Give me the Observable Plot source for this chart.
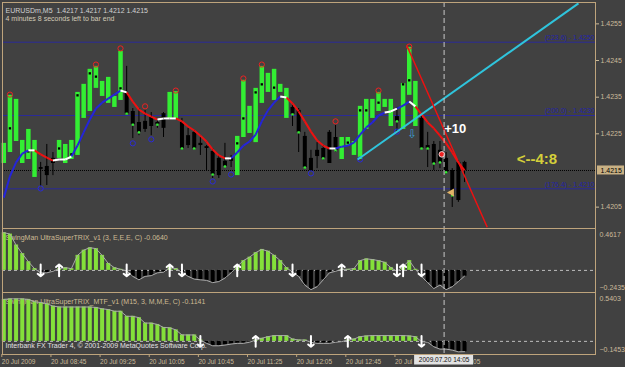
<!DOCTYPE html>
<html>
<head>
<meta charset="utf-8">
<script src="https://cdn.jsdelivr.net/npm/d3@7"></script>
<script src="https://cdn.jsdelivr.net/npm/@observablehq/plot@0.6"></script>
<style>
  html, body { margin: 0; padding: 0; background: #414141; }
  #chart { position: relative; width: 625px; height: 367px; overflow: hidden; background: #414141; }
  #chart svg { position: absolute; left: 0; overflow: visible; }
</style>
</head>
<body>
<div id="chart"></div>
<script>
// ---------------- data ----------------
const symbolTitle = "EURUSDm,M5  1.4217 1.4217 1.4212 1.4215";
const timerText = "4 minutes 8 seconds left to bar end";
const ind1Title = "SwingMan UltraSuperTRIX_v1 (3, E,E,E, C) -0.0640";
const ind2Title = "SwingMan UltraSuperTRIX_MTF_v1 (M15, 3, M,M,E, C) -0.1141";
const copyright = "Interbank FX Trader 4, \u00a9 2001-2009 MetaQuotes Software Corp.";

const open = [1.42169,1.42199,1.42229,1.42169,1.42180,1.42131,1.42158,1.42161,1.42183,1.42183,
  1.42169,1.42180,1.42191,1.42292,1.42311,1.42374,1.42352,1.42333,1.42322,1.42341,
  1.42360,1.42311,1.42281,1.42284,1.42295,1.42281,1.42305,1.42292,1.42292,1.42281,
  1.42245,1.42254,1.42224,1.42215,1.42202,1.42183,1.42175,1.42185,1.42136,1.42240,
  1.42251,1.42226,1.42333,1.42363,1.42341,1.42363,1.42292,1.42322,1.42314,1.42243,
  1.42183,1.42205,1.42210,1.42254,1.42240,1.42180,1.42218,1.42191,1.42180,1.42262,
  1.42292,1.42311,1.42322,1.42270,1.42297,1.42262,1.42355,1.42270,1.42292,1.42218,
  1.42221,1.42205,1.42183,1.42150,1.42172,1.42172];
const high = [1.42224,1.42355,1.42344,1.42232,1.42262,1.42232,1.42172,1.42221,1.42199,1.42232,
  1.42221,1.42232,1.42363,1.42385,1.42426,1.42434,1.42393,1.42404,1.42352,1.42475,
  1.42434,1.42319,1.42319,1.42314,1.42308,1.42292,1.42308,1.42363,1.42365,1.42292,
  1.42265,1.42259,1.42240,1.42218,1.42210,1.42191,1.42224,1.42191,1.42243,1.42396,
  1.42325,1.42374,1.42434,1.42415,1.42426,1.42385,1.42374,1.42327,1.42319,1.42254,
  1.42205,1.42226,1.42218,1.42259,1.42273,1.42240,1.42240,1.42229,1.42325,1.42344,
  1.42344,1.42363,1.42344,1.42344,1.42322,1.42387,1.42486,1.42393,1.42297,1.42254,
  1.42229,1.42229,1.42199,1.42155,1.42177,1.42175];
const low = [1.42169,1.42199,1.42229,1.42169,1.42180,1.42131,1.42106,1.42109,1.42136,1.42183,
  1.42169,1.42180,1.42191,1.42292,1.42311,1.42374,1.42352,1.42333,1.42322,1.42341,
  1.42300,1.42237,1.42245,1.42254,1.42245,1.42265,1.42240,1.42292,1.42292,1.42205,
  1.42210,1.42205,1.42191,1.42150,1.42128,1.42128,1.42158,1.42158,1.42136,1.42240,
  1.42251,1.42226,1.42333,1.42363,1.42341,1.42363,1.42292,1.42270,1.42199,1.42153,
  1.42147,1.42155,1.42177,1.42169,1.42199,1.42180,1.42218,1.42191,1.42180,1.42262,
  1.42292,1.42311,1.42322,1.42270,1.42254,1.42262,1.42355,1.42270,1.42207,1.42158,
  1.42150,1.42155,1.42139,1.42049,1.42063,1.42117];
const close = [1.42224,1.42355,1.42344,1.42232,1.42262,1.42232,1.42153,1.42136,1.42169,1.42232,
  1.42221,1.42232,1.42363,1.42385,1.42426,1.42434,1.42393,1.42404,1.42352,1.42475,
  1.42305,1.42275,1.42254,1.42262,1.42270,1.42275,1.42265,1.42363,1.42365,1.42210,
  1.42218,1.42210,1.42218,1.42210,1.42139,1.42136,1.42161,1.42175,1.42243,1.42396,
  1.42325,1.42374,1.42434,1.42415,1.42426,1.42385,1.42374,1.42303,1.42254,1.42158,
  1.42150,1.42188,1.42183,1.42169,1.42205,1.42240,1.42240,1.42229,1.42325,1.42344,
  1.42344,1.42363,1.42344,1.42344,1.42284,1.42387,1.42486,1.42393,1.42210,1.42210,
  1.42169,1.42172,1.42145,1.42082,1.42068,1.42150];

// moving average and its trend state per segment (u = rising, d = falling, f = flat)
const ma = [1.42076,1.42134,1.42172,1.42196,1.42205,1.42205,1.42194,1.42185,1.42177,1.42180,
  1.42180,1.42188,1.42218,1.42254,1.42289,1.42319,1.42335,1.42346,1.42357,1.42368,
  1.42363,1.42338,1.42316,1.42305,1.42297,1.42289,1.42292,1.42292,1.42292,1.42284,
  1.42270,1.42259,1.42245,1.42229,1.42207,1.42191,1.42183,1.42183,1.42199,1.42218,
  1.42229,1.42248,1.42284,1.42314,1.42335,1.42352,1.42349,1.42333,1.42311,1.42284,
  1.42256,1.42232,1.42218,1.42210,1.42210,1.42215,1.42218,1.42226,1.42248,1.42267,
  1.42281,1.42300,1.42308,1.42311,1.42319,1.42327,1.42338,1.42325,1.42303,1.42281,
  1.42265,1.42245,1.42224,1.42199,1.42172,1.42150];
const maTrend = ("uuuu" + "f" + "ddd" + "fff" + "uuuuuuuu" + "f" + "ddddd" + "fff" + "dddddddd" + "f" +
  "uuuuuuuu" + "f" + "ddddddd" + "f" + "uuuuuuuu" + "ff" + "uu" + "f" + "dddddddd").split("");

// black marker dots on bull bars
const markBars = [1,4,9,11,12,14,15,19,38,39,41,42,44,56,58,59,61,65,66];
const markPrices = [1.42265,1.42202,1.42210,1.42194,1.42355,1.42415,1.42406,1.42374,1.42224,1.42292,
  1.42363,1.42385,1.42376,1.42226,1.42314,1.42314,1.42335,1.42385,1.42396];
// green close dots on bear bars
const closeDotBars = [20,21,22,25,29,31,34,36,47,48,49,52,54,64,68,69,70,71,72,73];

// fractals
const fracUpBars = [1,15,19,23,28,39,42,54,61,66];
const fracUpPrices = [1.42357,1.42439,1.42483,1.42325,1.42368,1.42401,1.42439,1.42284,1.42368,1.42488];
const fracDnBars = [6,21,24,34,37,50,58,64];
const fracDnPrices = [1.42101,1.42224,1.42235,1.42120,1.42139,1.42142,1.42180,1.42256];

// trend lines [bar, price]
const cyanLine = [[57.6, 1.42180], [93.55, 1.42606]];
const redLine = [[65.6, 1.42491], [78.7, 1.41995]];

// fibonacci levels
const fibLevels = [1.4250, 1.4230, 1.4210];
const fibLabels = ["(223.6) - 1.4250", "(200.0) - 1.4230", "(176.4) - 1.4210"];
const bidPrice = 1.4215;
const priceTicks = [1.4205, 1.4225, 1.4235, 1.4245, 1.4255];

// annotations
const noteTexts = ["+10", "<--4:8"];
const noteBars = [71.7, 83.5];
const notePrices = [1.42264, 1.42180];
const arrowSign = {bar: 66.5, price: 1.42248, text: "\u21e9"};
const starSign = {bar: 71.3, price: 1.42194};
const triSign = {bar: 72.9, price: 1.42090};

// indicator 1
const ind1 = [0.416,0.40,0.28,0.185,0.096,0.02,-0.027,-0.027,-0.01,0.02,
  0.03,0.02,0.166,0.223,0.25,0.24,0.166,0.077,0.03,0.012,
  -0.005,-0.066,-0.104,-0.066,-0.058,-0.027,-0.02,0.03,0.02,-0.02,
  -0.066,-0.096,-0.104,-0.11,-0.135,-0.123,-0.085,-0.027,0.043,0.108,
  0.146,0.196,0.231,0.212,0.166,0.108,0.031,-0.02,-0.066,-0.162,
  -0.212,-0.18,-0.104,-0.027,-0.01,0.012,0.012,0.02,0.108,0.127,
  0.12,0.108,0.089,0.031,-0.01,0.043,0.108,0.012,-0.066,-0.135,
  -0.2,-0.162,-0.212,-0.18,-0.123,-0.064];
const ind1Range = [-0.2435, 0.4617];
const ind1Up = [9,27,38,55,65];
const ind1Down = [6,20,29,47,64,68];

// indicator 2
const ind2 = [0.464,0.47,0.47,0.47,0.464,0.438,0.43,0.416,0.39,0.38,
  0.38,0.38,0.38,0.38,0.38,0.375,0.36,0.352,0.333,0.333,
  0.277,0.277,0.262,0.202,0.202,0.187,0.154,0.15,0.127,0.071,
  0.071,0.071,0.015,-0.022,-0.049,-0.049,-0.041,-0.03,-0.022,-0.022,
  -0.01,0.015,0.034,0.052,0.064,0.064,0.064,0.026,0.015,0.015,
  -0.01,-0.022,-0.022,-0.022,-0.01,-0.003,0.015,0.026,0.052,0.06,
  0.064,0.064,0.064,0.064,0.064,0.064,0.06,0.052,-0.003,-0.01,
  -0.06,-0.086,-0.086,-0.097,-0.116,-0.114];
const ind2Range = [-0.1453, 0.5403];
const ind2Up = [41,56];
const ind2Down = [32,50,68];

// time axis (the 13:25 label is partly hidden by the cursor label in the original; only "20 Jul" shows)
const timeTicks = [0,8,16,24,32,40,48,56,64,72];
const timeLabels = ["20 Jul 2009","20 Jul 08:45","20 Jul 09:25","20 Jul 10:05","20 Jul 10:45",
  "20 Jul 11:25","20 Jul 12:05","20 Jul 12:45","20 Jul","05"];
const crossBar = 72;
const crossLabel = "2009.07.20 14:05";

// ---------------- styling ----------------
const W = 625, ML = 2, MR = 30;
const xDomain = [-0.212, 96.32];
const FONT = "Liberation Sans, Arial, sans-serif";
const tan = "#bea47c";
const axisColor = "#cbbb9b";
const bull = "#33ee33";
const histGreen = "#84e03a";
const N = close.length;
const idx = d3.range(N);
const candles = idx.map(i => ({i, o: open[i], h: high[i], l: low[i], c: close[i]}));
const bulls = candles.filter(d => d.c >= d.o);
const bears = candles.filter(d => d.c < d.o);
const segs = d3.range(N - 1).map(i => ({x1: i, y1: ma[i], x2: i + 1, y2: ma[i + 1], s: maTrend[i]}));
const baseStyle = {background: "none", fontFamily: FONT, fontSize: "7px", color: axisColor, overflow: "visible"};
const crossRule = Plot.ruleX([crossBar], {dx: -2, stroke: "#c8c8c8", strokeDasharray: "5,3", strokeWidth: 1});

const root = document.getElementById("chart");

// ---------------- main price panel ----------------
const main = Plot.plot({
  width: W, height: 229, marginLeft: ML, marginRight: MR, marginTop: 2, marginBottom: 1,
  style: baseStyle,
  x: {domain: xDomain, axis: null},
  y: {domain: [1.419917, 1.426083], axis: "right", ticks: priceTicks, tickFormat: d3.format(".4f"),
      tickSize: 3, tickPadding: 2, label: null},
  marks: [
    Plot.ruleY(fibLevels, {stroke: "#2a2a98", strokeWidth: 1, strokeDasharray: d => d === 1.4250 ? "3,1" : null}),
    Plot.ruleY([bidPrice], {stroke: "#000", strokeDasharray: "1,1"}),
    Plot.text([symbolTitle], {frameAnchor: "top-left", dx: 3, dy: 5.5, textAnchor: "start", fill: "#d2d2d2", fontSize: 7}),
    Plot.text([timerText], {frameAnchor: "top-left", dx: 3, dy: 13.7, textAnchor: "start", fill: "#d2cbb8", fontSize: 7}),
    Plot.ruleX(bears, {x: "i", y1: "l", y2: "h", stroke: "#000", strokeWidth: 1}),
    Plot.ruleX(bulls, {x: "i", y1: "o", y2: "c", stroke: bull, strokeWidth: 4.5}),
    Plot.ruleX(bears, {x: "i", y1: "o", y2: d => Math.abs(d.c - d.o) < 0.00003 ? d.o - 0.00003 : d.c, stroke: "#000", strokeWidth: 4}),
    Plot.dot(markBars, {x: d => d, y: (d, i) => markPrices[i], symbol: "square", r: 1.3, fill: "#000"}),
    Plot.dot(closeDotBars, {x: d => d, y: d => close[d], symbol: "square", r: 1.3, fill: bull}),
    Plot.link(segs.filter(d => d.s === "u"), {x1: "x1", y1: "y1", x2: "x2", y2: "y2", stroke: "#2424dc", strokeWidth: 2}),
    Plot.link(segs.filter(d => d.s === "d"), {x1: "x1", y1: "y1", x2: "x2", y2: "y2", stroke: "#ee1111", strokeWidth: 2}),
    Plot.link(segs.filter(d => d.s === "f"), {x1: "x1", y1: "y1", x2: "x2", y2: "y2", stroke: "#ffffff", strokeWidth: 2}),
    Plot.dot(fracUpBars, {x: d => d, y: (d, i) => fracUpPrices[i], r: 2.6, stroke: "#ee2222", strokeWidth: 1, fill: "none"}),
    Plot.dot(fracDnBars, {x: d => d, y: (d, i) => fracDnPrices[i], r: 2.6, stroke: "#2b2bd8", strokeWidth: 1, fill: "none"}),
    Plot.link([cyanLine], {x1: d => d[0][0], y1: d => d[0][1], x2: d => d[1][0], y2: d => d[1][1], stroke: "#2fc4dc", strokeWidth: 2}),
    Plot.link([redLine], {x1: d => d[0][0], y1: d => d[0][1], x2: d => d[1][0], y2: d => d[1][1], stroke: "#ee1111", strokeWidth: 1.5}),
    Plot.text([arrowSign], {x: "bar", y: "price", text: "text", fill: "#3a9ed0", fontSize: 12, fontFamily: "DejaVu Sans"}),
    Plot.dot([starSign], {x: "bar", y: "price", r: 2.8, fill: "#ee2020", stroke: "#ffffff", strokeWidth: 0.8}),
    Plot.dot([triSign], {x: "bar", y: "price", symbol: "triangle", r: 3, rotate: -90, fill: "#e2b468"}),
    Plot.text(noteTexts, {x: (d, i) => noteBars[i], y: (d, i) => notePrices[i], text: d => d, textAnchor: "start",
      fill: (d, i) => i === 0 ? "#ffffff" : "#d4cf3a", fontSize: (d, i) => i === 0 ? 13 : 15, fontWeight: "bold"}),
    crossRule,
    Plot.text(fibLevels, {y: d => d, text: (d, i) => fibLabels[i], frameAnchor: "right", textAnchor: "end", dx: -1, dy: -4.5,
      fill: "#2424a8", fontSize: 7}),
    Plot.frame({stroke: tan}),
    Plot.text([bidPrice], {y: d => d, text: d => d3.format(".4f")(d), frameAnchor: "right", textAnchor: "start", dx: 5, fill: "#000", fontSize: 7})
  ]
});
main.style.top = "0px";
root.appendChild(main);
{
  const ys = main.scale("y");
  const yy = ys.apply(bidPrice);
  const rect = document.createElementNS("http://www.w3.org/2000/svg", "rect");
  rect.setAttribute("x", 597); rect.setAttribute("y", yy - 4.5);
  rect.setAttribute("width", 27); rect.setAttribute("height", 9);
  rect.setAttribute("fill", "#c9b184");
  main.insertBefore(rect, main.lastChild);
}

// ---------------- indicator panels ----------------
function indicatorMarks(vals, range, ups, downs, title, arrowLen) {
  const pos = idx.filter(i => vals[i] >= 0), neg = idx.filter(i => vals[i] < 0);
  return [
    Plot.ruleY([0], {stroke: "#bdbdbd", strokeDasharray: "3,3"}),
    Plot.text([title], {frameAnchor: "top-left", dx: 3, dy: 7, textAnchor: "start", fill: "#cdbb94", fontSize: 7}),
    Plot.ruleX(pos, {x: d => d, y1: 0, y2: d => vals[d], stroke: histGreen, strokeWidth: 4}),
    Plot.ruleX(neg, {x: d => d, y1: 0, y2: d => vals[d], stroke: "#000", strokeWidth: 4}),
    Plot.line(idx, {x: d => d, y: d => vals[d], stroke: "#aaaaaa", strokeWidth: 1}),
    Plot.arrow(ups, {x1: d => d, x2: d => d, y1: -arrowLen, y2: arrowLen, stroke: "#ffffff", strokeWidth: 2, headLength: 5, headAngle: 100}),
    Plot.arrow(downs, {x1: d => d, x2: d => d, y1: arrowLen, y2: -arrowLen, stroke: "#ffffff", strokeWidth: 2, headLength: 5, headAngle: 100}),
    crossRule,
    Plot.text([range[1]], {y: d => d, text: d => d3.format(".4f")(d), frameAnchor: "right", textAnchor: "start", dx: 4, dy: 6.5, fill: axisColor, fontSize: 7}),
    Plot.text([0], {y: d => d, text: "0.00", frameAnchor: "right", textAnchor: "start", dx: 4, dy: -0.5, fill: axisColor, fontSize: 7}),
    Plot.text([range[0]], {y: d => d, text: d => d3.format(".4f")(d), frameAnchor: "right", textAnchor: "start", dx: 4, dy: -4.5, fill: axisColor, fontSize: 7}),
    Plot.frame({stroke: tan})
  ];
}

const p1 = Plot.plot({
  width: W, height: 66, marginLeft: ML, marginRight: MR, marginTop: 1, marginBottom: 1,
  style: baseStyle,
  x: {domain: xDomain, axis: null},
  y: {domain: ind1Range, axis: null},
  marks: indicatorMarks(ind1, ind1Range, ind1Up, ind1Down, ind1Title, 0.065)
});
p1.style.top = "227px";
root.appendChild(p1);

const p2 = Plot.plot({
  width: W, height: 76, marginLeft: ML, marginRight: MR, marginTop: 1, marginBottom: 13,
  style: baseStyle,
  x: {domain: xDomain, axis: null},
  y: {domain: ind2Range, axis: null},
  marks: [
    ...indicatorMarks(ind2, ind2Range, ind2Up, ind2Down, ind2Title, 0.06),
    Plot.text([copyright], {frameAnchor: "bottom-left", dx: 3, dy: -7, textAnchor: "start", fill: "#e2e2e2", fontSize: 7}),
    Plot.axisX(timeTicks, {anchor: "bottom", tickFormat: d => timeLabels[timeTicks.indexOf(d)], textAnchor: "start",
      dx: -2, tickSize: 3, tickPadding: 2, fontSize: 6.5, stroke: tan, fill: axisColor}),
    Plot.text([crossLabel], {x: crossBar, frameAnchor: "bottom", dx: -2, dy: 7.5, text: d => d, fill: "#111", fontSize: 6.5})
  ]
});
p2.style.top = "291px";
root.appendChild(p2);
{
  // shift the trailing "05" fragment so it peeks out right of the cursor label as in the original
  const lbls = p2.querySelectorAll('g[aria-label="x-axis tick label"] text');
  lbls.forEach(t => { if (t.textContent === "05") t.setAttribute("dx", 29); });
  const xs = p2.scale("x");
  const cx = xs.apply(crossBar) - 2;
  const rect = document.createElementNS("http://www.w3.org/2000/svg", "rect");
  rect.setAttribute("x", cx - 29.5); rect.setAttribute("y", 64);
  rect.setAttribute("width", 59); rect.setAttribute("height", 9.5);
  rect.setAttribute("fill", "#e2e2e2");
  p2.insertBefore(rect, p2.lastChild);
}
</script>
</body>
</html>
